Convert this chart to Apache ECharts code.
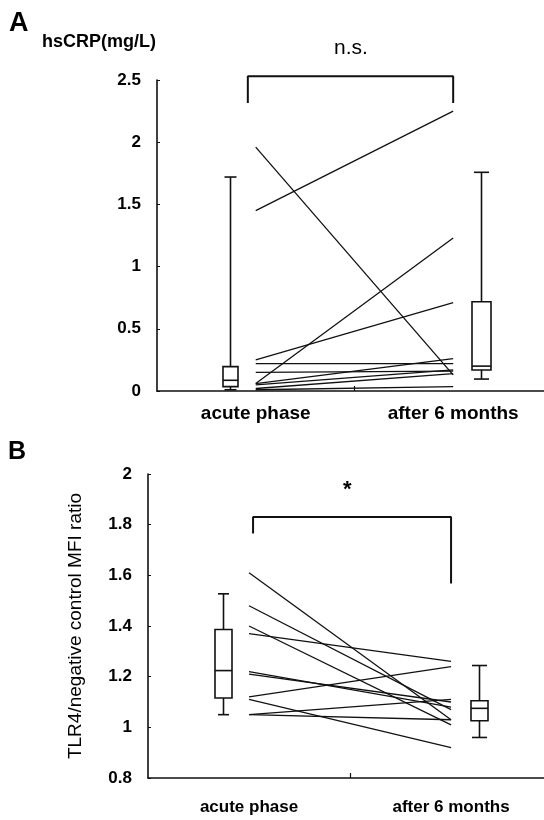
<!DOCTYPE html>
<html>
<head>
<meta charset="utf-8">
<script src="https://cdn.jsdelivr.net/npm/echarts@6/dist/echarts.min.js"></script>
<style>
  html, body { margin: 0; padding: 0; background: #fff; }
  #main { width: 544px; height: 820px; }
</style>
</head>
<body>
<div id="main"></div>
<script>
// categories (x)
const categories = ['acute phase', 'after 6 months'];

// panel A: hsCRP (mg/L), one pair per patient
const crpAcute = [1.45, 1.96, 0.06, 0.25, 0.22, 0.15, 0.06, 0.05, 0.02, 0.01];
const crpAfter = [2.25, 0.13, 1.23, 0.71, 0.22, 0.16, 0.26, 0.17, 0.14, 0.035];
// box stats [min, q1, median, q3, max]
const crpBoxAcute = [0.01, 0.035, 0.086, 0.196, 1.72];
const crpBoxAfter = [0.096, 0.169, 0.2, 0.718, 1.758];

// panel B: TLR4 / negative control MFI ratio
const tlrAcute = [1.61, 1.48, 1.40, 1.37, 1.22, 1.21, 1.12, 1.11, 1.05, 1.05];
const tlrAfter = [1.03, 1.07, 1.01, 1.26, 1.08, 1.10, 1.24, 0.92, 1.11, 1.03];
const tlrBoxAcute = [1.05, 1.116, 1.224, 1.386, 1.527];
const tlrBoxAfter = [0.96, 1.026, 1.075, 1.105, 1.244];

// significance brackets [leftBottom, top, rightBottom]
const crpBracket = [2.315, 2.53, 2.315];
const tlrBracket = [1.765, 1.83, 1.568];

const FONT = '"Liberation Sans", Arial, sans-serif';
const INK = '#111';

// box placement (x offset from the category)
const BOX_OFFSET = [-0.13, 0.14];

function boxRender(w, cap) {
  return function (params, api) {
    const x = api.value(0);
    const p = [1, 2, 3, 4, 5].map(function (i) { return api.coord([x, api.value(i)]); });
    const cx = Math.round(p[0][0]) + 0.5;
    const st = { stroke: INK, lineWidth: 1.6, fill: null };
    return {
      type: 'group',
      children: [
        { type: 'line', shape: { x1: cx, y1: p[0][1], x2: cx, y2: p[4][1] }, style: st },
        { type: 'line', shape: { x1: cx - cap / 2, y1: p[4][1], x2: cx + cap / 2, y2: p[4][1] }, style: st },
        { type: 'line', shape: { x1: cx - cap / 2, y1: p[0][1], x2: cx + cap / 2, y2: p[0][1] }, style: st },
        { type: 'rect', shape: { x: cx - w / 2, y: p[3][1], width: w, height: p[1][1] - p[3][1] },
          style: { fill: '#fff', stroke: INK, lineWidth: 1.6 } },
        { type: 'line', shape: { x1: cx - w / 2, y1: p[2][1], x2: cx + w / 2, y2: p[2][1] }, style: st }
      ]
    };
  };
}

function boxSeries(idx, stats, catIdx, w, cap) {
  return {
    type: 'custom',
    xAxisIndex: idx, yAxisIndex: idx,
    renderItem: boxRender(w, cap),
    encode: { x: 0, y: [1, 2, 3, 4, 5] },
    clip: false,
    silent: true,
    data: [[catIdx + 1 + BOX_OFFSET[catIdx]].concat(stats)]
  };
}

function pairSeries(idx, before, after) {
  return before.map(function (v, i) {
    return {
      type: 'line', xAxisIndex: idx, yAxisIndex: idx,
      symbol: 'none', silent: true,
      lineStyle: { color: INK, width: 1.3 },
      data: [[1, v], [2, after[i]]]
    };
  });
}

function bracketSeries(idx, b, xl, xr) {
  return {
    type: 'line', xAxisIndex: idx, yAxisIndex: idx,
    symbol: 'none', silent: true, clip: false,
    lineStyle: { color: INK, width: 2 },
    data: [[xl, b[0]], [xl, b[1]], [xr, b[1]], [xr, b[2]]]
  };
}

function xAxis(idx, margin, size) {
  return {
    type: 'value', gridIndex: idx, min: 0.5, max: 2.46,
    axisLine: { lineStyle: { color: INK, width: 1.6 } },
    axisTick: { show: true, inside: true, length: 5, customValues: [1.5], lineStyle: { color: INK, width: 1.2 } },
    axisLabel: {
      customValues: [1, 2], margin: margin,
      formatter: function (v) { return categories[Math.round(v) - 1]; },
      color: '#000', fontFamily: FONT, fontWeight: 'bold', fontSize: size
    },
    splitLine: { show: false }
  };
}

function yAxis(idx, min, max, interval, name) {
  return {
    type: 'value', gridIndex: idx, min: min, max: max, interval: interval,
    name: name, nameLocation: 'middle', nameGap: 63, nameRotate: 90,
    nameTextStyle: { color: '#000', fontFamily: FONT, fontSize: 19 },
    axisLine: { show: true, lineStyle: { color: INK, width: 1.6 } },
    axisTick: { show: true, inside: true, length: 3, lineStyle: { color: INK } },
    axisLabel: { color: '#000', fontFamily: FONT, fontWeight: 'bold', fontSize: 17, margin: 16 },
    splitLine: { show: false }
  };
}

const chart = echarts.init(document.getElementById('main'), null, { renderer: 'canvas' });

const option = {
  backgroundColor: '#fff',
  animation: false,
  grid: [
    { left: 157, right: 0, top: 80, bottom: 429 },
    { left: 148, right: 0, top: 474, bottom: 42 }
  ],
  xAxis: [xAxis(0, 13, 19), xAxis(1, 21, 17)],
  yAxis: [
    yAxis(0, 0, 2.5, 0.5, ''),
    yAxis(1, 0.8, 2, 0.2, 'TLR4/negative control MFI ratio')
  ],
  graphic: [
    { type: 'text', left: 9, top: 10, style: { text: 'A', font: 'bold 27px ' + FONT, fill: '#000' } },
    { type: 'text', left: 42, top: 33, style: { text: 'hsCRP(mg/L)', font: 'bold 18px ' + FONT, fill: '#000' } },
    { type: 'text', left: 334, top: 38, style: { text: 'n.s.', font: '21px ' + FONT, fill: '#000' } },
    { type: 'text', left: 8, top: 440, style: { text: 'B', font: 'bold 25px ' + FONT, fill: '#000' } },
    { type: 'text', left: 343, top: 479, style: { text: '*', font: 'bold 22px ' + FONT, fill: '#000' } }
  ],
  series: [].concat(
    pairSeries(0, crpAcute, crpAfter),
    [boxSeries(0, crpBoxAcute, 0, 15, 12), boxSeries(0, crpBoxAfter, 1, 19, 15),
     bracketSeries(0, crpBracket, 0.96, 2)],
    pairSeries(1, tlrAcute, tlrAfter),
    [boxSeries(1, tlrBoxAcute, 0, 17, 11), boxSeries(1, tlrBoxAfter, 1, 17, 15),
     bracketSeries(1, tlrBracket, 1.02, 2)]
  )
};

chart.setOption(option);
</script>
</body>
</html>
